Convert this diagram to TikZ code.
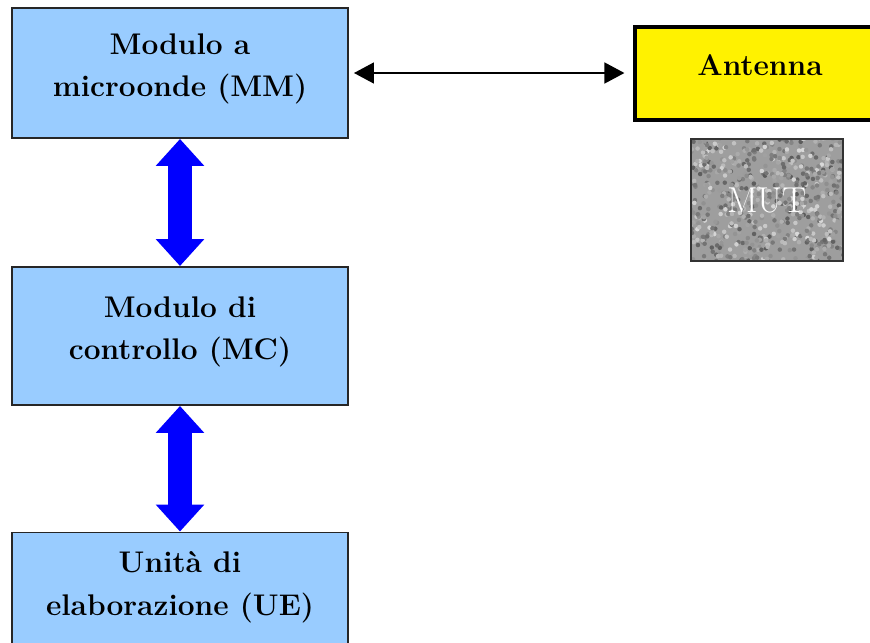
\documentclass[tikz,border=0pt]{standalone}
\usetikzlibrary{arrows.meta,backgrounds}

\definecolor{boxblue}{HTML}{99CCFF}
\definecolor{arrowblue}{HTML}{0000FF}

\tikzset{
    modbox/.style={draw=black!85, line width=1.1pt, fill=boxblue,
        minimum width=6.72cm, align=center, text depth=0.3cm,
        font=\fontsize{17}{24}\selectfont\bfseries},
    antbox/.style={draw=black, line width=1.8pt, fill=yellow,
        minimum width=5cm, minimum height=1.86cm, text depth=0.34cm,
        font=\fontsize{17}{24}\selectfont\bfseries},
    mutbox/.style={draw=black!80, line width=0.6pt,
        minimum width=3.04cm, minimum height=2.44cm, text=white,
        font=\fontsize{20.5}{24}\selectfont},
    bigarrow/.style={arrowblue, line width=0.48cm,
        {Triangle[length=0.54cm,width=0.94cm]}-{Triangle[length=0.54cm,width=0.94cm]}},
    thinarrow/.style={black, line width=0.9pt,
        {Triangle[length=0.4cm,width=0.42cm]}-{Triangle[length=0.4cm,width=0.42cm]}}
}

\begin{document}
\begin{tikzpicture}
    \useasboundingbox (0,0) rectangle (17.4,-12.84);

    % Left column of modules
    \node[modbox, minimum height=2.6cm] (MM) at (3.6,-1.46) {Modulo a\\microonde (MM)};
    \node[modbox, minimum height=2.76cm] (MC) at (3.6,-6.72) {Modulo di\\controllo (MC)};
    \node[modbox, minimum height=2.34cm] (UE) at (3.6,-11.82) {Unit\`a di\\elaborazione (UE)};

    % Antenna and material under test
    \node[antbox] (ANT) at (15.2,-1.47) {Antenna};
    \node[mutbox] (MUT) at (15.34,-4.0) {MUT};
    \begin{scope}[on background layer]
        \fill[black!38] (MUT.south west) rectangle (MUT.north east);
        \clip (MUT.south west) rectangle (MUT.north east);
        \pgfmathsetseed{7}
        \foreach \i in {1,...,650} {
            \pgfmathsetmacro\dx{1.55*rand}
            \pgfmathsetmacro\dy{1.25*rand}
            \pgfmathtruncatemacro\g{40+25*rand}
            \fill[black!\g] ([shift={(\dx,\dy)}]MUT.center) circle (0.045);
        }
    \end{scope}

    % Connections
    \draw[bigarrow] (MM.south) -- (MC.north);
    \draw[bigarrow] (MC.south) -- (UE.north);
    \draw[thinarrow, shorten <=0.1cm, shorten >=0.18cm] (MM.east) -- (ANT.west |- MM.east);
\end{tikzpicture}
\end{document}
